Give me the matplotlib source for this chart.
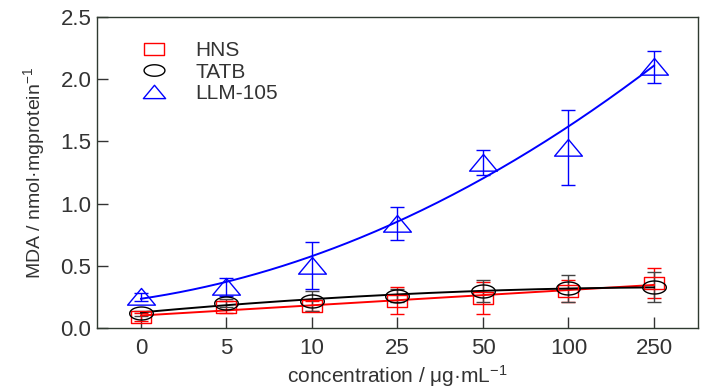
import numpy as np
import matplotlib
matplotlib.use("Agg")
import matplotlib.pyplot as plt
from matplotlib.path import Path

FONT = ['Liberation Sans Narrow', 'Liberation Sans', 'DejaVu Sans']
plt.rcParams['font.family'] = FONT
plt.rcParams['mathtext.fontset'] = 'custom'
plt.rcParams['mathtext.rm'] = 'Liberation Sans'
plt.rcParams['mathtext.it'] = 'Liberation Sans'

categories = ['0', '5', '10', '25', '50', '100', '250']
hns = [0.09, 0.17, 0.18, 0.22, 0.24, 0.30, 0.36]
hns_err = [0.03, 0.05, 0.04, 0.11, 0.13, 0.09, 0.12]
tatb = [0.12, 0.20, 0.22, 0.26, 0.30, 0.32, 0.33]
tatb_err = [0.02, 0.03, 0.08, 0.05, 0.09, 0.11, 0.12]
llm = [0.25, 0.33, 0.50, 0.84, 1.33, 1.45, 2.10]
llm_err = [0.03, 0.07, 0.19, 0.13, 0.10, 0.30, 0.13]

x = np.arange(len(categories))
TXT = '#333333'

# custom squashed markers
t = np.linspace(0, 2 * np.pi, 60)
ellipse = Path(np.column_stack([np.cos(t), 0.55 * np.sin(t)]), closed=True)
rect = Path([(-1, -0.6), (1, -0.6), (1, 0.6), (-1, 0.6), (-1, -0.6)], closed=True)
tri = Path([(-1, -0.55), (1, -0.55), (0, 0.65), (-1, -0.55)], closed=True)

fig = plt.figure(figsize=(7.28, 3.9), dpi=100)
ax = fig.add_axes([0.1332, 0.159, 0.8256, 0.797])

series = [
    ('HNS', hns, hns_err, 'red', rect, 1, 15),
    ('TATB', tatb, tatb_err, 'black', ellipse, 2, 17),
    ('LLM-105', llm, llm_err, 'blue', tri, 2, 20),
]

xf = np.linspace(0, 6, 200)
handles = []
for name, y, e, c, m, deg, ms in series:
    ecol = c if c != 'black' else '#444444'
    ax.errorbar(x, y, yerr=e, fmt='none', ecolor=ecol, elinewidth=1.0,
                capsize=5, capthick=1.0, zorder=2)
    coef = np.polyfit(x, y, deg, w=1.0 / np.sqrt(np.array(e)))
    ax.plot(xf, np.polyval(coef, xf), color=c, lw=1.4, zorder=3)
    h, = ax.plot(x, y, linestyle='none', marker=m, markersize=ms,
                 markerfacecolor='none', markeredgecolor=c, markeredgewidth=1.0,
                 zorder=4, label=name)
    handles.append(h)

ax.set_xlim(-0.515, 6.515)
ax.set_ylim(0, 2.5)
ax.set_xticks(x)
ax.set_xticklabels(categories)
ax.set_yticks([0, 0.5, 1.0, 1.5, 2.0, 2.5])
ax.set_yticklabels(['0.0', '0.5', '1.0', '1.5', '2.0', '2.5'])
ax.tick_params(direction='in', length=8, width=1, colors='#333333',
               labelsize=16, labelcolor=TXT)
ax.tick_params(axis='x', pad=7)
ax.tick_params(axis='y', pad=4)
for s in ax.spines.values():
    s.set_color('#2f3a30')
    s.set_linewidth(1.0)

ax.set_xlabel(r'concentration / μg·mL$^{\mathregular{-1}}$', fontsize=15, color=TXT, labelpad=3)
ax.set_ylabel(r'MDA / nmol·mgprotein$^{\mathregular{-1}}$', fontsize=14, color=TXT, labelpad=10)

leg = ax.legend(handles=handles, loc='upper left', bbox_to_anchor=(0.063, 0.95),
                frameon=False, fontsize=15, handlelength=1.0, handletextpad=1.5,
                labelspacing=0.12, borderaxespad=0)
for txt in leg.get_texts():
    txt.set_color(TXT)
for lh, ms in zip(leg.legend_handles, [14, 15, 16]):
    lh.set_markersize(ms)

fig.savefig('out.png', dpi=100)
